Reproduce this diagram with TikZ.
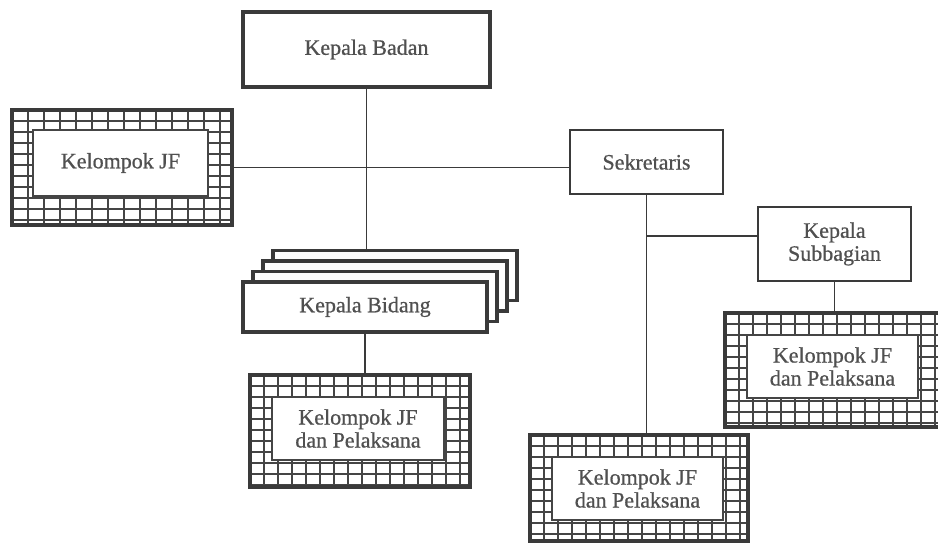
\documentclass[tikz,border=0pt]{standalone}
\usepackage{fontspec}
\setmainfont{Liberation Serif}[FakeBold=0.7]
\definecolor{ink}{HTML}{3A3A3A}
\definecolor{txt}{HTML}{505050}
\definecolor{gridink}{HTML}{454545}

% grid-filled band of a "Kelompok" frame: #1..#4 outer corners, #5 column step
\newcommand{\bandgrid}[5]{%
  \begin{scope}
    \clip (#1,#2) rectangle (#3,#4);
    \foreach \i in {0,...,20} \draw[gridline] ({#1+\i*#5},#2) -- ++(0,140);
    \foreach \j in {0,...,14} \draw[gridline] (#1,{#2+\j*11}) -- ++(260,0);
  \end{scope}}

\begin{document}
\begin{tikzpicture}[x=1pt,y=-1pt,
  every node/.style={font=\fontsize{22}{23}\selectfont, text=txt, align=center, inner sep=0pt, outer sep=0pt},
  headbox/.style={draw=ink, fill=white, line width=#1},
  headbox/.default=2.2pt,
  gridline/.style={draw=gridink, line width=1.5pt},
  jfouter/.style={draw=ink, line width=4pt},
  jfinner/.style={draw=gridink, fill=white, line width=1.2pt},
  conn/.style={draw=ink, line width=1.5pt}]
\useasboundingbox[fill=white] (0,0) rectangle (938,544);

% top of the chart
\node[headbox=4pt, minimum width=247, minimum height=75] (badan) at (366.5,49.5) {Kepala Badan};

% secretariat
\node[headbox, minimum width=153, minimum height=64] (sek) at (646.5,162) {Sekretaris};
\node[headbox, minimum width=153, minimum height=74] (kasub) at (834.5,244) {Kepala\\Subbagian};

% stacked department heads
\node[headbox=3.5pt, minimum width=244, minimum height=50] (bid3) at (395,275.5) {};
\node[headbox=3.5pt, minimum width=244, minimum height=50] (bid2) at (385,286) {};
\node[headbox=3.5pt, minimum width=244, minimum height=50] (bid1) at (375,296.5) {};
\node[headbox=3.5pt, minimum width=244, minimum height=50] (bid0) at (365,307) {Kepala Bidang};

% functional groups (left)
\bandgrid{12}{110}{232}{225}{16}
\node[jfinner, minimum width=175, minimum height=66] (jfl-t) at (120.5,163) {Kelompok JF};
\node[jfouter, minimum width=220, minimum height=115] (jfl) at (122,167.5) {};

% functional groups under the department heads
\bandgrid{250}{375}{470}{487}{14}
\node[jfinner, minimum width=172, minimum height=63] (jfb-t) at (358,428.5) {Kelompok JF\\dan Pelaksana};
\node[jfouter, minimum width=220, minimum height=112] (jfb) at (360,431) {};

% functional groups under the secretary
\bandgrid{530}{435}{748}{541}{14}
\node[jfinner, minimum width=171, minimum height=63] (jfs-t) at (637.5,488.5) {Kelompok JF\\dan Pelaksana};
\node[jfouter, minimum width=218, minimum height=106] (jfs) at (639,488) {};

% functional groups under the sub-division head
\bandgrid{725}{313}{940}{427}{14}
\node[jfinner, minimum width=171, minimum height=63] (jfr-t) at (832.5,366.5) {Kelompok JF\\dan Pelaksana};
\node[jfouter, minimum width=215, minimum height=114] (jfr) at (832.5,370) {};

% connectors
\draw[conn] (badan.south) -- (badan.south |- bid3.north);
\draw[conn] (jfl.east) -- (jfl.east -| sek.west);
\draw[conn] (sek.south) -- (sek.south |- jfs.north);
\path (sek.south) ++(0,42) coordinate (jn);
\draw[conn] (jn) -- (jn -| kasub.west);
\draw[conn] (kasub.south) -- (kasub.south |- jfr.north);
\draw[conn] (bid0.south) -- (bid0.south |- jfb.north);
\end{tikzpicture}
\end{document}
